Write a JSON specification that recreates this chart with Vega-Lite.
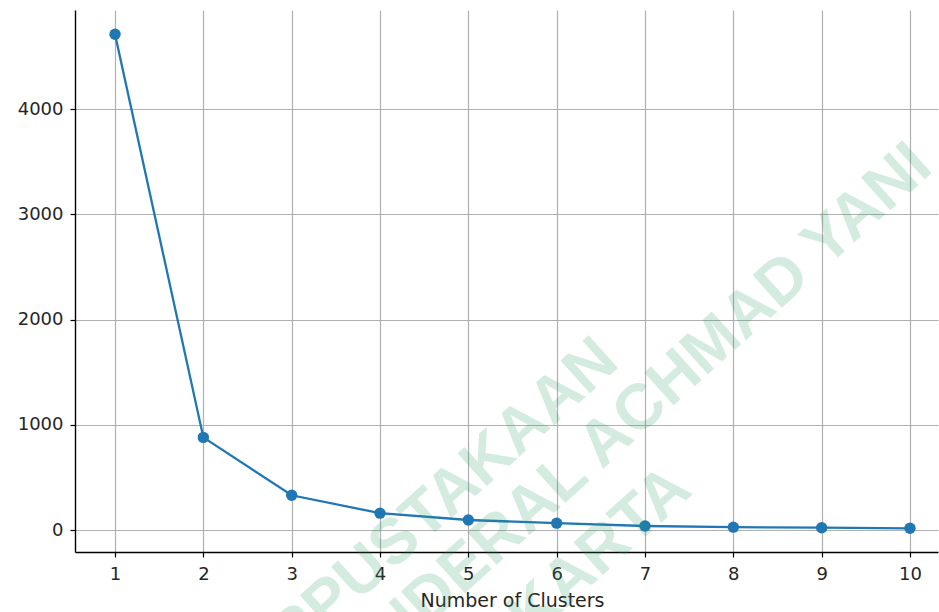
{
  "$schema": "https://vega.github.io/schema/vega-lite/v6.json",
  "autosize": "none",
  "width": 863,
  "height": 542,
  "padding": {"left": 75, "top": 10, "right": 1, "bottom": 60},
  "background": "white",
  "config": {
    "view": {"stroke": null},
    "font": "DejaVu Sans",
    "axis": {
      "labelFont": "DejaVu Sans",
      "titleFont": "DejaVu Sans",
      "labelFontSize": 18,
      "titleFontSize": 19,
      "labelColor": "#262626",
      "titleColor": "#262626",
      "titleFontWeight": "normal",
      "gridColor": "#b0b0b0",
      "gridWidth": 1.2,
      "gridOpacity": 1,
      "tickColor": "#000000",
      "tickSize": 5,
      "tickWidth": 1.2,
      "domainColor": "#000000",
      "domainWidth": 1.4
    }
  },
  "datasets": {
    "elbow": [
      {"k": 1, "wcss": 4710},
      {"k": 2, "wcss": 880},
      {"k": 3, "wcss": 330},
      {"k": 4, "wcss": 160},
      {"k": 5, "wcss": 95},
      {"k": 6, "wcss": 65},
      {"k": 7, "wcss": 38},
      {"k": 8, "wcss": 27},
      {"k": 9, "wcss": 22},
      {"k": 10, "wcss": 16}
    ],
    "watermark": [
      {"x": 6.73, "y": 1568, "label": "PERPUSTAKAAN"},
      {"x": 10.28, "y": 3420, "label": "UNIVERSITAS JENDERAL ACHMAD YANI"},
      {"x": 7.555, "y": 352, "label": "YOGYAKARTA"}
    ]
  },
  "layer": [
    {
      "data": {"name": "elbow"},
      "mark": {"type": "line", "color": "#1f77b4", "strokeWidth": 2.3, "clip": true},
      "encoding": {
        "x": {
          "field": "k", "type": "quantitative",
          "scale": {"domain": [0.547, 10.317], "nice": false, "zero": false},
          "axis": {
            "values": [1, 2, 3, 4, 5, 6, 7, 8, 9, 10],
            "format": "d",
            "title": "Number of Clusters",
            "labelPadding": 8,
            "titlePadding": 8,
            "titleX": 437
          }
        },
        "y": {
          "field": "wcss", "type": "quantitative",
          "scale": {"domain": [-209, 4941], "nice": false, "zero": false},
          "axis": {
            "values": [0, 1000, 2000, 3000, 4000],
            "format": "d",
            "title": null,
            "labelPadding": 7
          }
        }
      }
    },
    {
      "data": {"name": "elbow"},
      "mark": {"type": "point", "filled": true, "color": "#1f77b4", "opacity": 1, "size": 130},
      "encoding": {
        "x": {"field": "k", "type": "quantitative"},
        "y": {"field": "wcss", "type": "quantitative"}
      }
    },
    {
      "mark": {"type": "rule", "color": "#000000", "strokeWidth": 1.4},
      "encoding": {"y": {"datum": 4941}}
    },
    {
      "data": {"name": "watermark"},
      "mark": {
        "type": "text", "align": "right", "baseline": "alphabetic",
        "angle": -42, "fontSize": 64, "fontWeight": "bold",
        "font": "Liberation Sans", "color": "#2e9e6a", "opacity": 0.2
      },
      "encoding": {
        "x": {"field": "x", "type": "quantitative"},
        "y": {"field": "y", "type": "quantitative"},
        "text": {"field": "label"}
      }
    }
  ]
}
